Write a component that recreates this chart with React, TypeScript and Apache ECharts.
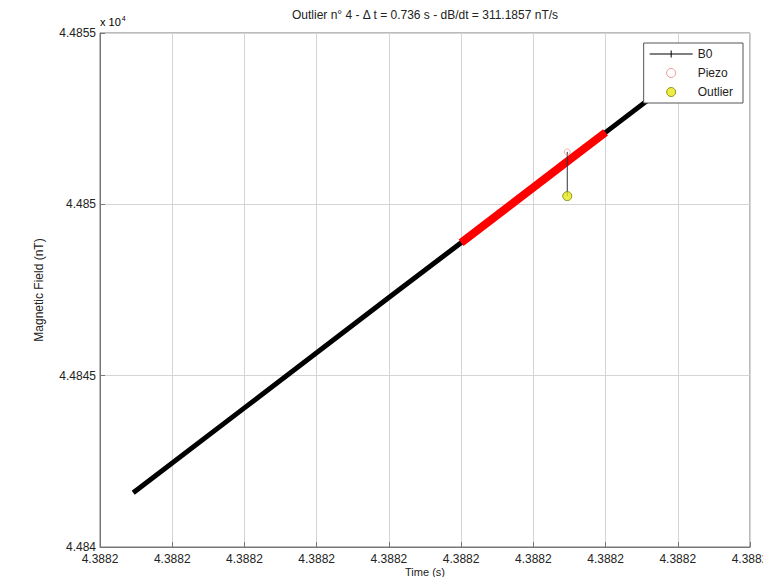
import React, { useEffect, useRef } from "react";
import * as echarts from "echarts";

// Time axis in tick units (each tick labelled 4.3882 x 10^4 s)
const xTickLabels = ["4.3882", "4.3882", "4.3882", "4.3882", "4.3882", "4.3882", "4.3882", "4.3882", "4.3882", "4.3882"];
const yTickLabels = ["4.484", "4.4845", "4.485", "4.4855"];

const b0Time = [0.46, 2.0, 4.0, 5.0, 7.0, 8.3];
const b0Field = [44841.58, 44844.06, 44847.28, 44848.88, 44852.1, 44854.19];

const piezoTime = [5.0, 6.0, 6.47, 7.0];
const piezoField = [44848.88, 44850.49, 44851.25, 44852.1];

const piezoMarkTime = [6.47];
const piezoMarkField = [44851.53];

const outlierTime = [6.47];
const outlierField = [44850.24];

const TITLE = "Outlier n° 4 - Δ t = 0.736 s - dB/dt = 311.1857 nT/s";

export default function App() {
  const ref = useRef<HTMLDivElement>(null);
  useEffect(() => {
    document.body.style.margin = "0";
    const chart = echarts.init(ref.current!, null, { renderer: "svg" });
    const font = "'Liberation Sans', Arial, Helvetica, sans-serif";
    const zip = (a: number[], b: number[]) => a.map((v, i) => [v, b[i]]);
    const b0Icon = "path://M0,4.5h43v1h-43z M21,1.5h1v7h-1z";
    chart.setOption({
      animation: false,
      backgroundColor: "#fff",
      textStyle: { fontFamily: font },
      grid: {
        left: 100,
        right: 13,
        top: 33,
        bottom: 30,
        show: true,
        borderColor: "#777",
        borderWidth: 1,
        outerBoundsMode: "none",
        containLabel: false,
      },
      xAxis: {
        type: "value",
        min: 0,
        max: 9,
        interval: 1,
        axisLine: { show: true, lineStyle: { color: "#777" } },
        axisTick: { show: true, inside: true, length: 5, lineStyle: { color: "#777" } },
        axisLabel: {
          color: "#222",
          fontSize: 12,
          margin: 6,
          fontFamily: font,
          hideOverlap: false,
          formatter: (v: number) => xTickLabels[Math.round(v)] ?? "",
        },
        splitLine: { show: true, lineStyle: { color: "#d4d4d4", width: 1 } },
      },
      yAxis: {
        type: "value",
        min: 44840,
        max: 44855,
        interval: 5,
        name: "Magnetic Field (nT)",
        nameLocation: "middle",
        nameGap: 55,
        nameTextStyle: { color: "#222", fontSize: 12, fontFamily: font },
        axisLine: { show: true, lineStyle: { color: "#777" } },
        axisTick: { show: true, inside: true, length: 5, lineStyle: { color: "#777" } },
        axisLabel: {
          color: "#222",
          fontSize: 12,
          margin: 4,
          fontFamily: font,
          formatter: (v: number) => yTickLabels[Math.round((v - 44840) / 5)] ?? "",
        },
        splitLine: { show: true, lineStyle: { color: "#d4d4d4", width: 1 } },
      },
      legend: {
        orient: "vertical",
        right: 20,
        top: 43,
        z: 20,
        backgroundColor: "#fff",
        borderColor: "#555",
        borderWidth: 1,
        borderRadius: 0,
        padding: [4, 10, 4, 6],
        itemWidth: 43,
        itemHeight: 9,
        itemGap: 5,
        textStyle: { color: "#222", fontSize: 12, fontFamily: font, lineHeight: 14 },
        data: [
          { name: "B0", icon: b0Icon, itemStyle: { color: "#000", borderWidth: 0 } },
          { name: "Piezo", icon: "circle", itemStyle: { color: "#fff", borderColor: "#f19a9a", borderWidth: 1 } },
          { name: "Outlier", icon: "circle", itemStyle: { color: "#e8e81a", borderColor: "#7a7a00", borderWidth: 1 } },
        ],
      },
      graphic: [
        {
          type: "text",
          x: 425,
          y: 15,
          style: { text: TITLE, font: `12px ${font}`, fill: "#222", align: "center", verticalAlign: "middle" },
        },
        {
          type: "text",
          x: 100,
          y: 28,
          style: {
            text: "{a|x 10}{s|4}",
            align: "left",
            verticalAlign: "bottom",
            rich: {
              a: { fontSize: 11, fontFamily: font, color: "#222" },
              s: { fontSize: 7, fontFamily: font, color: "#222", verticalAlign: "top", padding: [0, 0, 6, 1] },
            },
          },
        },
        {
          type: "text",
          x: 425,
          y: 566,
          style: { text: "Time (s)", font: `11px ${font}`, fill: "#222", align: "center", verticalAlign: "top" },
        },
        {
          type: "text",
          x: 722,
          y: 574,
          style: {
            text: "{a|x 10}{s|4}",
            align: "left",
            verticalAlign: "top",
            rich: {
              a: { fontSize: 11, fontFamily: font, color: "#222", padding: [6, 0, 0, 0] },
              s: { fontSize: 7, fontFamily: font, color: "#222" },
            },
          },
        },
      ],
      series: [
        {
          name: "B0",
          type: "line",
          data: zip(b0Time, b0Field),
          symbol: "none",
          lineStyle: { color: "#000", width: 5 },
          itemStyle: { color: "#000" },
          z: 2,
        },
        {
          name: "Piezo",
          type: "line",
          data: zip(piezoTime, piezoField),
          symbol: "none",
          lineStyle: { color: "#f00", width: 8 },
          itemStyle: { color: "#f00" },
          z: 3,
        },
        {
          name: "stem",
          type: "line",
          data: [
            [piezoMarkTime[0], piezoMarkField[0]],
            [outlierTime[0], outlierField[0]],
          ],
          symbol: "none",
          lineStyle: { color: "#333", width: 1 },
          z: 4,
        },
        {
          name: "Piezo",
          type: "scatter",
          data: zip(piezoMarkTime, piezoMarkField),
          symbol: "circle",
          symbolSize: 6,
          itemStyle: { color: "rgba(255,255,255,0)", borderColor: "#f19a9a", borderWidth: 1 },
          z: 5,
        },
        {
          name: "Outlier",
          type: "scatter",
          data: zip(outlierTime, outlierField),
          symbol: "circle",
          symbolSize: 9,
          itemStyle: { color: "#e8e81a", borderColor: "#7a7a00", borderWidth: 1 },
          z: 6,
        },
      ],
    });
    return () => chart.dispose();
  }, []);
  return <div ref={ref} style={{ width: 763, height: 577 }} />;
}
